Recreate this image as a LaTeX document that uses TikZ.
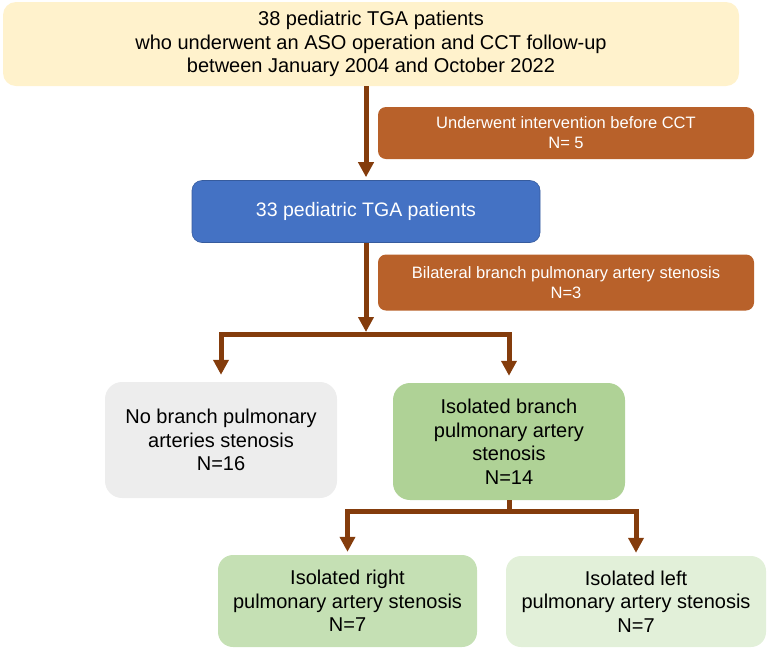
\documentclass[tikz,border=0pt]{standalone}
\usepackage{fontspec}
\setmainfont{Liberation Sans}
\usetikzlibrary{arrows.meta, positioning, calc}
\usepackage{xcolor}
\definecolor{creamfill}{HTML}{FFF2CC}
\definecolor{rustfill}{HTML}{B8612A}
\definecolor{bluefill}{HTML}{4472C4}
\definecolor{greyfill}{HTML}{EDEDED}
\definecolor{greenfill}{HTML}{AFD296}
\definecolor{lightgreenfill}{HTML}{C5E0B4}
\definecolor{palegreenfill}{HTML}{E2F0D9}
\definecolor{arrowbrown}{HTML}{843C0C}

\begin{document}
\begin{tikzpicture}[x=1pt, y=1pt,
	box/.style={rectangle, inner sep=0pt, align=center, font=\fontsize{20}{23.5}\selectfont},
	yellowbox/.style={box, rounded corners=13pt, fill=creamfill, minimum width=736pt, minimum height=84pt},
	orangebox/.style={box, rounded corners=8pt, fill=rustfill, text=white, minimum width=376pt, minimum height=52pt, font=\fontsize{16.5}{20}\selectfont},
	bluebox/.style={box, rounded corners=10pt, fill=bluefill, draw=bluefill!80!black, line width=.6pt, text=white, minimum width=348pt, minimum height=62pt, font=\fontsize{19.5}{23}\selectfont},
	greybox/.style={box, rounded corners=17pt, fill=greyfill, minimum width=232pt, minimum height=116pt},
	greenbox/.style={box, rounded corners=17pt, fill=greenfill, minimum width=232pt, minimum height=117pt},
	lightgreenbox/.style={box, rounded corners=15pt, fill=lightgreenfill, minimum width=259pt, minimum height=92pt},
	palegreenbox/.style={box, rounded corners=15pt, fill=palegreenfill, minimum width=260pt, minimum height=91pt},
	flow/.style={line width=5pt, draw=arrowbrown},
	arrow/.style={flow, -{Triangle[length=15pt, width=15pt]}},
	twoway/.style={flow, {Triangle[length=15pt, width=15pt]}-{Triangle[length=15pt, width=15pt]}}
	]
	\useasboundingbox (0,0) rectangle (767,-649);
	
	\node[yellowbox] (all) at (371,-44) {38 pediatric TGA patients\\ who underwent an ASO operation and CCT follow-up\\ between January 2004 and October 2022};
	\node[bluebox, below=94pt of all, xshift=-5pt] (tga) {33 pediatric TGA patients};
	\node[orangebox] (excl1) at (566,-133) {Underwent intervention before CCT\\ N= 5};
	\node[orangebox, minimum height=56pt] (excl2) at (566,-282.5) {Bilateral branch pulmonary artery stenosis\\ N=3};
	
	\node[greybox] (nobranch) at (221,-440) {No branch pulmonary\\ arteries stenosis\\ N=16};
	\node[greenbox] (isolated) at (509,-441.5) {Isolated branch\\ pulmonary artery\\ stenosis\\ N=14};
	
	\node[lightgreenbox] (rightpa) at (347.5,-601) {Isolated right\\ pulmonary artery stenosis\\ N=7};
	\node[palegreenbox] (leftpa) at (636,-601.5) {Isolated left\\ pulmonary artery stenosis\\ N=7};
	
	\coordinate (split1) at (366,-334.5);
	\coordinate (split2) at ($(isolated.south)+(0,-11)$);
	
	\draw[arrow, shorten >=3pt] (all.south -| tga.north) to (tga.north);
	\draw[arrow] (tga.south) to ($(split1)+(0,2.5)$);
	\draw[twoway, shorten <=7pt, shorten >=7pt] (nobranch.north) |- (split1) -| (isolated.north);
	
	\draw[flow] (isolated.south) to (split2);
	\draw[twoway, shorten <=3pt, shorten >=3pt] (rightpa.north) |- (split2) -| (leftpa.north);
\end{tikzpicture}
\end{document}
